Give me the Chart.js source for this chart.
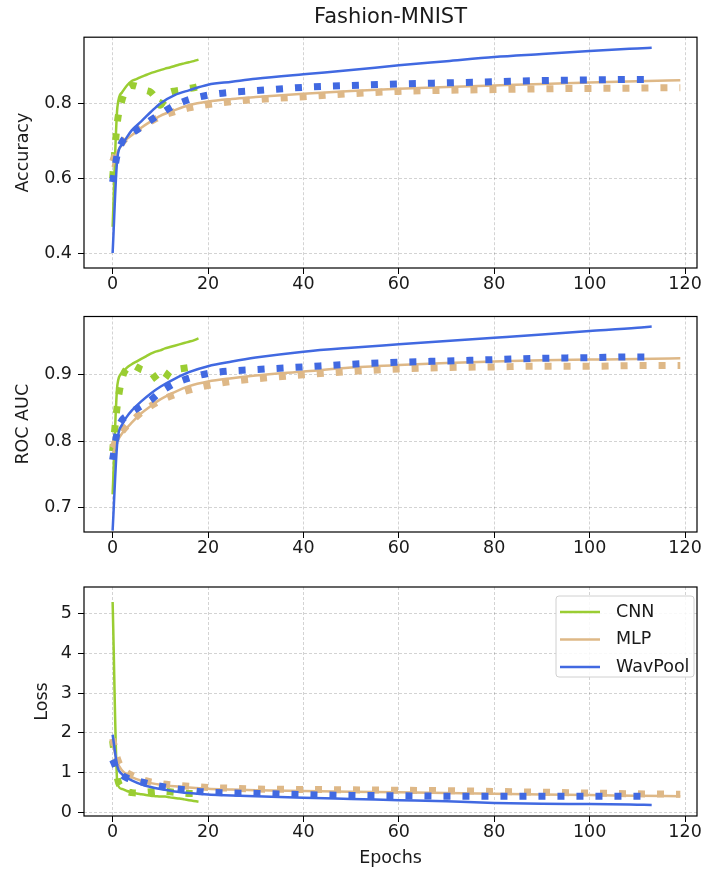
<!DOCTYPE html>
<html>
<head>
<meta charset="utf-8">
<script src="https://cdn.jsdelivr.net/npm/chart.js@4/dist/chart.umd.min.js"></script>
<style>
body { margin: 0; background: #fff; }
#wrap { position: relative; width: 707px; height: 874px; }
canvas { position: absolute; left: 0; }
</style>
</head>
<body>
<div id="wrap">
  <canvas id="acc" width="707" height="300" style="top:0px"></canvas>
  <canvas id="auc" width="707" height="264" style="top:300px"></canvas>
  <canvas id="loss" width="707" height="310" style="top:564px"></canvas>
</div>
<script>
var cnnEpochs = [0,1,2,3,4,5,6,7,8,9,10,11,12,13,14,15,16,17,18];
var mlpEpochs = [0,1,2,3,4,6,8,10,13,16,20,25,30,40,50,60,70,80,90,100,110,119];
var wavEpochs = [0,1,2,3,4,6,8,10,13,16,20,25,30,40,50,60,70,80,90,100,110,113];

var xTicks = [0,20,40,60,80,100,120];
var accTicks = [0.4,0.6,0.8];
var aucTicks = [0.7,0.8,0.9];
var lossTicks = [0,1,2,3,4,5];

var models = ['CNN', 'MLP', 'WavPool'];

// Accuracy
var accCnnTrain = [0.47,0.79,0.83,0.848,0.86,0.865,0.871,0.876,0.881,0.885,0.889,0.893,0.896,0.900,0.904,0.907,0.910,0.913,0.917];
var accCnnVal   = [0.60,0.75,0.81,0.84,0.848,0.846,0.840,0.835,0.830,0.815,0.795,0.815,0.830,0.833,0.835,0.838,0.840,0.842,0.845];
var accMlpTrain = [0.63,0.67,0.69,0.705,0.715,0.735,0.752,0.767,0.782,0.795,0.805,0.812,0.817,0.826,0.833,0.839,0.844,0.848,0.852,0.856,0.859,0.862];
var accMlpVal   = [0.645,0.675,0.695,0.71,0.72,0.738,0.752,0.765,0.778,0.788,0.797,0.805,0.81,0.818,0.826,0.832,0.835,0.837,0.839,0.84,0.841,0.842];
var accWavTrain = [0.40,0.655,0.69,0.71,0.728,0.752,0.777,0.80,0.822,0.835,0.85,0.858,0.866,0.878,0.889,0.902,0.913,0.924,0.932,0.940,0.947,0.949];
var accWavVal   = [0.59,0.665,0.697,0.712,0.72,0.737,0.755,0.772,0.795,0.81,0.822,0.83,0.834,0.843,0.848,0.852,0.855,0.858,0.861,0.863,0.864,0.864];

// ROC AUC
var aucCnnTrain = [0.72,0.885,0.903,0.911,0.916,0.92,0.924,0.928,0.932,0.935,0.937,0.94,0.942,0.944,0.946,0.948,0.95,0.952,0.955];
var aucCnnVal   = [0.785,0.855,0.895,0.91,0.915,0.912,0.908,0.906,0.904,0.895,0.888,0.895,0.905,0.908,0.909,0.91,0.911,0.913,0.914];
var aucMlpTrain = [0.78,0.80,0.812,0.82,0.828,0.842,0.853,0.863,0.874,0.883,0.89,0.895,0.899,0.905,0.911,0.915,0.918,0.92,0.922,0.923,0.924,0.925];
var aucMlpVal   = [0.79,0.805,0.815,0.823,0.83,0.843,0.853,0.861,0.87,0.877,0.884,0.89,0.894,0.90,0.905,0.909,0.911,0.912,0.913,0.913,0.914,0.914];
var aucWavTrain = [0.665,0.80,0.825,0.837,0.846,0.86,0.872,0.882,0.894,0.904,0.913,0.92,0.926,0.935,0.941,0.946,0.951,0.956,0.961,0.966,0.971,0.973];
var aucWavVal   = [0.772,0.815,0.832,0.838,0.844,0.853,0.862,0.874,0.887,0.895,0.902,0.906,0.908,0.912,0.916,0.919,0.921,0.923,0.925,0.926,0.927,0.927];

// Loss
var lossCnnTrain = [5.3,0.72,0.58,0.53,0.50,0.47,0.45,0.43,0.41,0.40,0.39,0.39,0.37,0.355,0.34,0.32,0.30,0.28,0.26];
var lossCnnVal   = [1.8,0.85,0.60,0.52,0.49,0.48,0.49,0.50,0.51,0.52,0.53,0.52,0.51,0.50,0.49,0.48,0.47,0.47,0.47];
var lossMlpTrain = [1.75,1.25,1.05,0.95,0.88,0.79,0.73,0.69,0.65,0.62,0.59,0.57,0.55,0.53,0.51,0.50,0.48,0.46,0.44,0.43,0.41,0.40];
var lossMlpVal   = [1.85,1.35,1.10,1.00,0.93,0.83,0.76,0.72,0.68,0.65,0.62,0.60,0.58,0.57,0.56,0.55,0.54,0.52,0.50,0.48,0.46,0.45];
var lossWavTrain = [1.95,1.15,0.95,0.87,0.80,0.70,0.63,0.58,0.52,0.48,0.44,0.42,0.40,0.36,0.33,0.30,0.27,0.23,0.21,0.20,0.185,0.18];
var lossWavVal   = [1.32,1.05,0.93,0.86,0.82,0.76,0.70,0.65,0.59,0.55,0.50,0.48,0.47,0.44,0.42,0.41,0.40,0.40,0.40,0.40,0.40,0.40];

var colors = { CNN: '#9acd32', MLP: '#deb887', WavPool: '#4169e1' };
var FONT = 'DejaVu Sans';
var FS = 17.5;
var TEXT = '#1a1a1a';

function pts(epochs, vals) {
    return epochs.map(function (e, i) { return { x: e, y: vals[i] }; });
}

function series(model, epochs, train, val) {
    return [
        {
            label: model,
            data: pts(epochs, train),
            borderColor: colors[model],
            borderWidth: 2.5,
            cubicInterpolationMode: 'monotone',
            pointRadius: 0
        },
        {
            label: model + ' val',
            data: pts(epochs, val),
            borderColor: colors[model],
            borderWidth: 7,
            borderDash: [7, 12],
            borderCapStyle: 'butt',
            cubicInterpolationMode: 'monotone',
            pointRadius: 0
        }
    ];
}

// black box round the plot area
var framePlugin = {
    id: 'frame',
    afterDraw: function (chart) {
        var a = chart.chartArea, ctx = chart.ctx;
        ctx.save();
        ctx.strokeStyle = '#000';
        ctx.lineWidth = 1.2;
        ctx.strokeRect(a.left, a.top, a.right - a.left, a.bottom - a.top);
        ctx.restore();
    }
};

// matplotlib style legend box in the upper right
var legendBoxPlugin = {
    id: 'legendBox',
    afterDraw: function (chart, args, opts) {
        if (!opts.show) return;
        var a = chart.chartArea, ctx = chart.ctx;
        var w = 138, h = 81;
        var x = a.right - w - 3, y = a.top + 9;
        ctx.save();
        ctx.fillStyle = 'rgba(255,255,255,0.85)';
        ctx.strokeStyle = '#d0d0d0';
        ctx.lineWidth = 1;
        ctx.beginPath();
        ctx.roundRect(x, y, w, h, 3);
        ctx.fill();
        ctx.stroke();
        ctx.font = FS + 'px "' + FONT + '"';
        ctx.textBaseline = 'middle';
        models.forEach(function (m, i) {
            var ly = y + 16 + i * 27.5;
            ctx.strokeStyle = colors[m];
            ctx.lineWidth = 2.5;
            ctx.beginPath();
            ctx.moveTo(x + 4, ly);
            ctx.lineTo(x + 44, ly);
            ctx.stroke();
            ctx.fillStyle = TEXT;
            ctx.fillText(m, x + 60, ly);
        });
        ctx.restore();
    }
};

function makeChart(id, o) {
    var datasets = []
        .concat(series('CNN', cnnEpochs, o.cnn[0], o.cnn[1]))
        .concat(series('MLP', mlpEpochs, o.mlp[0], o.mlp[1]))
        .concat(series('WavPool', wavEpochs, o.wav[0], o.wav[1]));
    datasets.forEach(function (d, i) { d.order = datasets.length - i; });

    var grid = {
        color: 'rgba(0,0,0,0.22)',
        lineWidth: 0.8,
        drawTicks: true,
        tickLength: 6,
        tickColor: '#000',
        tickWidth: 1,
        tickBorderDash: []
    };
    var border = { display: false, dash: [3, 2] };

    return new Chart(document.getElementById(id).getContext('2d'), {
        type: 'line',
        data: { datasets: datasets },
        plugins: [framePlugin, legendBoxPlugin],
        options: {
            responsive: false,
            animation: false,
            layout: { padding: { top: o.padTop, right: 10, left: 0, bottom: 0 } },
            plugins: {
                legend: { display: false },
                tooltip: { enabled: false },
                legendBox: { show: !!o.legend },
                title: {
                    display: !!o.title,
                    text: o.title || '',
                    fullSize: false,
                    color: TEXT,
                    font: { family: FONT, size: 21, weight: 'normal' },
                    padding: { top: 5, bottom: 7 }
                }
            },
            scales: {
                x: {
                    type: 'linear',
                    min: -6,
                    max: 122.5,
                    grid: grid,
                    border: border,
                    afterBuildTicks: function (s) {
                        s.ticks = xTicks.map(function (v) { return { value: v }; });
                    },
                    afterFit: function (s) { s.height = o.xHeight; },
                    ticks: {
                        color: TEXT,
                        padding: 0,
                        maxRotation: 0,
                        font: { family: FONT, size: FS },
                        callback: function (v) { return String(v); }
                    },
                    title: {
                        display: !!o.xTitle,
                        text: o.xTitle || '',
                        color: TEXT,
                        font: { family: FONT, size: FS },
                        padding: { top: 0, bottom: 5.5 }
                    }
                },
                y: {
                    type: 'linear',
                    min: o.yMin,
                    max: o.yMax,
                    grid: grid,
                    border: border,
                    afterBuildTicks: function (s) {
                        s.ticks = o.yTicks.map(function (v) { return { value: v }; });
                    },
                    afterFit: function (s) { s.width = 84; },
                    ticks: {
                        color: TEXT,
                        padding: 6,
                        font: { family: FONT, size: FS },
                        callback: o.yFmt
                    },
                    title: {
                        display: true,
                        text: o.yTitle,
                        color: TEXT,
                        font: { family: FONT, size: FS },
                        padding: { top: o.yTitlePad, bottom: 0 }
                    }
                }
            }
        }
    });
}

function oneDecimal(v) { return v.toFixed(1); }
function whole(v) { return String(v); }

makeChart('acc', {
    title: 'Fashion-MNIST',
    padTop: 0,
    xHeight: 32,
    yMin: 0.36, yMax: 0.977, yTicks: accTicks, yFmt: oneDecimal,
    yTitle: 'Accuracy', yTitlePad: 13,
    cnn: [accCnnTrain, accCnnVal],
    mlp: [accMlpTrain, accMlpVal],
    wav: [accWavTrain, accWavVal]
});

makeChart('auc', {
    padTop: 13,
    xHeight: 32,
    yMin: 0.663, yMax: 0.988, yTicks: aucTicks, yFmt: oneDecimal,
    yTitle: 'ROC AUC', yTitlePad: 13,
    cnn: [aucCnnTrain, aucCnnVal],
    mlp: [aucMlpTrain, aucMlpVal],
    wav: [aucWavTrain, aucWavVal]
});

makeChart('loss', {
    padTop: 23,
    xHeight: 58,
    xTitle: 'Epochs',
    legend: true,
    yMin: -0.1, yMax: 5.68, yTicks: lossTicks, yFmt: whole,
    yTitle: 'Loss', yTitlePad: 32,
    cnn: [lossCnnTrain, lossCnnVal],
    mlp: [lossMlpTrain, lossMlpVal],
    wav: [lossWavTrain, lossWavVal]
});
</script>
</body>
</html>
